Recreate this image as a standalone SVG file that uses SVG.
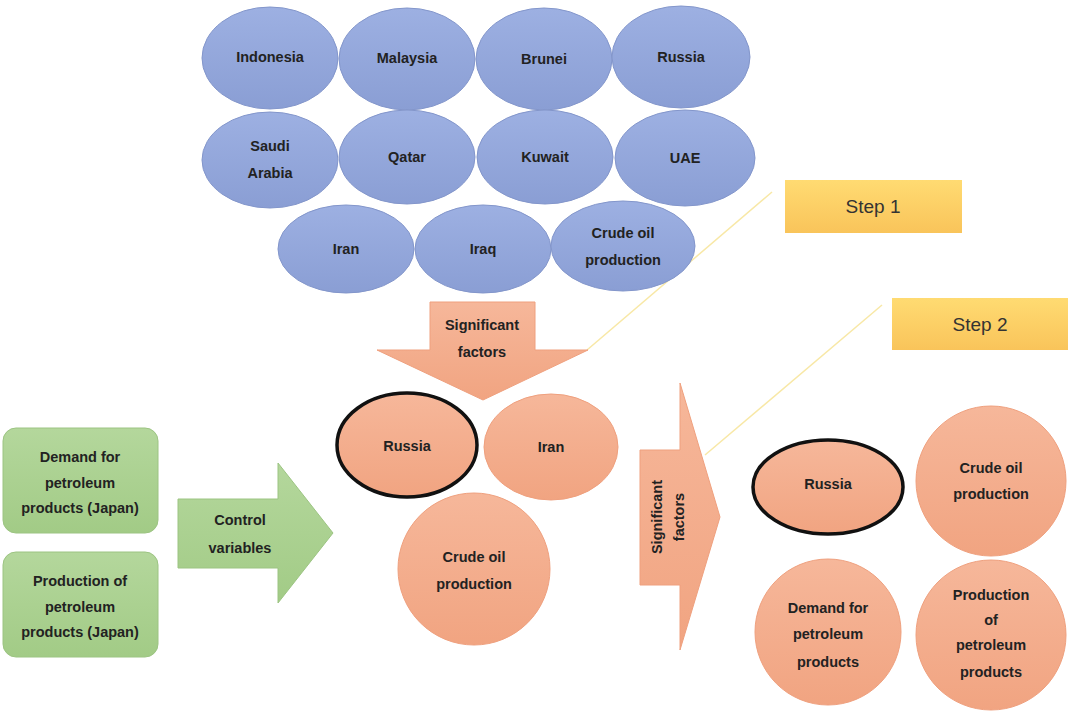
<svg xmlns="http://www.w3.org/2000/svg" width="1069" height="715" viewBox="0 0 1069 715">
  <defs>
    <linearGradient id="gBlue" x1="0" y1="0" x2="0" y2="1">
      <stop offset="0" stop-color="#9DB0E2"/>
      <stop offset="1" stop-color="#8A9ED4"/>
    </linearGradient>
    <linearGradient id="gPink" x1="0" y1="0" x2="0" y2="1">
      <stop offset="0" stop-color="#F6B79A"/>
      <stop offset="1" stop-color="#F1A481"/>
    </linearGradient>
    <linearGradient id="gGreen" x1="0" y1="0" x2="0" y2="1">
      <stop offset="0" stop-color="#B4D79C"/>
      <stop offset="1" stop-color="#A2CB86"/>
    </linearGradient>
    <linearGradient id="gGold" x1="0" y1="0" x2="0" y2="1">
      <stop offset="0" stop-color="#FFDB72"/>
      <stop offset="1" stop-color="#F9C45A"/>
    </linearGradient>
  </defs>
  <style>
    .blue { fill: url(#gBlue); stroke: #8396CB; stroke-width: 1; }
    .pink { fill: url(#gPink); stroke: #EFA07E; stroke-width: 1; }
    .bold { stroke: #111; stroke-width: 3.5; }
    .green { fill: url(#gGreen); stroke: #9CC482; stroke-width: 1; }
    .gold { fill: url(#gGold); }
    .lbl { font-family: "Liberation Sans", Arial, sans-serif; font-size: 14.5px; font-weight: bold; fill: #222; text-anchor: middle; }
    .step { font-family: "Liberation Sans", Arial, sans-serif; font-size: 19px; fill: #333; text-anchor: middle; }
    .guide { stroke: #F8E8A6; stroke-width: 1.5; fill: none; }
  </style>
  <rect width="1069" height="715" fill="#ffffff"/>

  <!-- guide lines to step labels -->
  <g id="connectors">
    <line class="guide" x1="587" y1="350" x2="772" y2="192"/>
    <line class="guide" x1="705" y1="455" x2="882" y2="305"/>
  </g>

  <!-- candidate countries / factors -->
  <g id="indonesia"><ellipse class="blue" cx="270" cy="58" rx="68" ry="51"/><text class="lbl" x="270" y="62">Indonesia</text></g>
  <g id="malaysia"><ellipse class="blue" cx="407" cy="59" rx="68" ry="51"/><text class="lbl" x="407" y="63">Malaysia</text></g>
  <g id="brunei"><ellipse class="blue" cx="544" cy="59" rx="68" ry="51"/><text class="lbl" x="544" y="64">Brunei</text></g>
  <g id="russia-top"><ellipse class="blue" cx="681" cy="57" rx="69" ry="51"/><text class="lbl" x="681" y="62">Russia</text></g>

  <g id="saudi"><ellipse class="blue" cx="270" cy="160" rx="68" ry="48"/><text class="lbl" x="270" y="151">Saudi</text><text class="lbl" x="270" y="178">Arabia</text></g>
  <g id="qatar"><ellipse class="blue" cx="407" cy="157" rx="68" ry="47"/><text class="lbl" x="407" y="162">Qatar</text></g>
  <g id="kuwait"><ellipse class="blue" cx="545" cy="157" rx="68" ry="47"/><text class="lbl" x="545" y="162">Kuwait</text></g>
  <g id="uae"><ellipse class="blue" cx="685" cy="158" rx="70" ry="48"/><text class="lbl" x="685" y="163">UAE</text></g>

  <g id="iran-top"><ellipse class="blue" cx="346" cy="249" rx="68" ry="44"/><text class="lbl" x="346" y="254">Iran</text></g>
  <g id="iraq"><ellipse class="blue" cx="483" cy="249" rx="68" ry="44"/><text class="lbl" x="483" y="254">Iraq</text></g>
  <g id="crude-top"><ellipse class="blue" cx="623" cy="246" rx="72" ry="45"/><text class="lbl" x="623" y="238">Crude oil</text><text class="lbl" x="623" y="265">production</text></g>

  <!-- step labels -->
  <g id="step1"><rect class="gold" x="785" y="180" width="177" height="53"/><text class="step" x="873" y="213">Step 1</text></g>
  <g id="step2"><rect class="gold" x="892" y="298" width="176" height="52"/><text class="step" x="980" y="331">Step 2</text></g>

  <!-- down arrow -->
  <g id="arrow-down">
    <polygon class="pink" points="430,302 535,302 535,350 588,350 483,400 377,350 430,350"/>
    <text class="lbl" x="482" y="330">Significant</text>
    <text class="lbl" x="482" y="357">factors</text>
  </g>

  <!-- step 1 results -->
  <g id="russia-mid"><ellipse class="pink bold" cx="407" cy="445" rx="70" ry="52"/><text class="lbl" x="407" y="451">Russia</text></g>
  <g id="iran-mid"><ellipse class="pink" cx="551" cy="447" rx="67" ry="53"/><text class="lbl" x="551" y="452">Iran</text></g>
  <g id="crude-mid"><circle class="pink" cx="474" cy="569" r="76"/><text class="lbl" x="474" y="562">Crude oil</text><text class="lbl" x="474" y="589">production</text></g>

  <!-- control variables -->
  <g id="demand-jp"><rect class="green" x="3" y="428" width="155" height="105" rx="13"/><text class="lbl" x="80" y="462">Demand for</text><text class="lbl" x="80" y="488">petroleum</text><text class="lbl" x="80" y="513">products (Japan)</text></g>
  <g id="production-jp"><rect class="green" x="3" y="552" width="155" height="105" rx="13"/><text class="lbl" x="80" y="586">Production of</text><text class="lbl" x="80" y="612">petroleum</text><text class="lbl" x="80" y="637">products (Japan)</text></g>

  <g id="arrow-control">
    <polygon class="green" points="178,499 278,499 278,463 333,533 278,603 278,568 178,568"/>
    <text class="lbl" x="240" y="525">Control</text>
    <text class="lbl" x="240" y="553">variables</text>
  </g>

  <!-- right arrow -->
  <g id="arrow-right">
    <polygon class="pink" points="640,450 680,450 680,383 720,517 680,650 680,585 640,585"/>
    <g transform="translate(668,517) rotate(-90)">
      <text class="lbl" x="0" y="-6">Significant</text>
      <text class="lbl" x="0" y="16">factors</text>
    </g>
  </g>

  <!-- step 2 results -->
  <g id="russia-final"><ellipse class="pink bold" cx="828" cy="487" rx="75" ry="47"/><text class="lbl" x="828" y="489">Russia</text></g>
  <g id="crude-final"><circle class="pink" cx="991" cy="481" r="75"/><text class="lbl" x="991" y="473">Crude oil</text><text class="lbl" x="991" y="499">production</text></g>
  <g id="demand-final"><circle class="pink" cx="828" cy="632" r="73"/><text class="lbl" x="828" y="613">Demand for</text><text class="lbl" x="828" y="639">petroleum</text><text class="lbl" x="828" y="667">products</text></g>
  <g id="production-final"><circle class="pink" cx="991" cy="635" r="75"/><text class="lbl" x="991" y="600">Production</text><text class="lbl" x="991" y="625">of</text><text class="lbl" x="991" y="650">petroleum</text><text class="lbl" x="991" y="677">products</text></g>
</svg>
